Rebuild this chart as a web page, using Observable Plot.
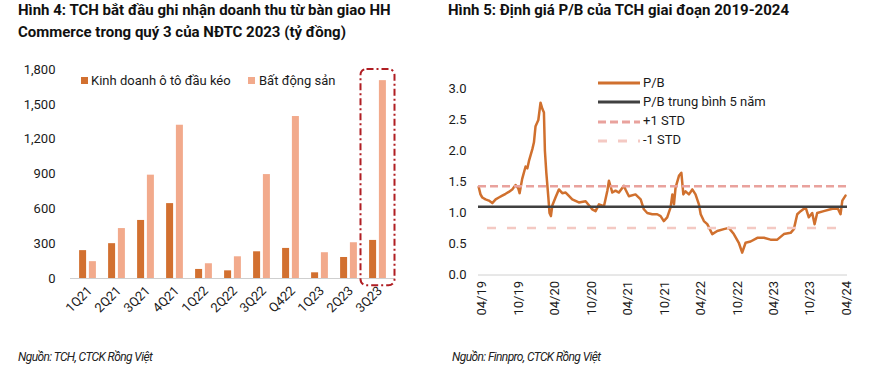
<!DOCTYPE html>
<html><head><meta charset="utf-8">
<script src="https://cdn.jsdelivr.net/npm/d3@7"></script>
<script src="https://cdn.jsdelivr.net/npm/@observablehq/plot@0.6"></script>
<style>
body{margin:0;background:#fff;font-family:Roboto,sans-serif;color:#1a1a1a}
#page{position:relative;width:870px;height:375px;overflow:hidden;background:#fff}
.abs{position:absolute;white-space:nowrap}
.title{font-weight:700;font-size:15px;line-height:21.7px;color:#111}
.leg{font-size:13px;line-height:16px;color:#1a1a1a}
.sw{display:inline-block;width:7px;height:7px;position:absolute}
.src{font-style:italic;font-size:12px;letter-spacing:-0.6px;color:#222}
svg{overflow:visible}
</style></head><body><div id="page">
<div class="abs title" style="left:18px;top:0px">Hình 4: TCH bắt đầu ghi nhận doanh thu từ bàn giao HH<br>Commerce trong quý 3 của NĐTC 2023 (tỷ đồng)</div>
<div class="abs title" style="left:448px;top:0px">Hình 5: Định giá P/B của TCH giai đoạn 2019-2024</div>
<div id="left" class="abs" style="left:0;top:60px"></div>
<div id="right" class="abs" style="left:435px;top:60px"></div>
<div id="legL"></div>
<div id="legR"></div>
<div class="abs src" style="left:18px;top:350px">Nguồn: TCH, CTCK Rồng Việt</div>
<div class="abs src" style="left:452px;top:350px">Nguồn: Finnpro, CTCK Rồng Việt</div>
</div>
<script>
// ---- Chart 1 data ----
const quarters = ["1Q21","2Q21","3Q21","4Q21","1Q22","2Q22","3Q22","Q422","1Q23","2Q23","3Q23"];
const truckSales = [240,300,500,645,78,66,230,259,49,181,328];
const realEstate = [145,430,890,1320,127,187,895,1395,222,308,1704];
const barTicks = [0,300,600,900,1200,1500,1800];
const seriesNames = ["Kinh doanh ô tô đầu kéo","Bất động sản"];
const highlightQuarter = "3Q23";
const highlightRange = [-63, 1800];

// ---- Chart 2 data ----
const pbDates = ["2019-03-14","2019-03-23","2019-04-01","2019-04-17","2019-05-04","2019-05-21","2019-06-07","2019-06-23","2019-07-10","2019-07-27","2019-08-12","2019-08-29","2019-09-15","2019-09-28","2019-10-05","2019-10-18","2019-11-04","2019-11-13","2019-11-21","2019-12-08","2019-12-16","2019-12-24","2020-01-07","2020-01-18","2020-01-27","2020-02-04","2020-02-09","2020-02-16","2020-02-26","2020-03-03","2020-03-10","2020-03-17","2020-04-02","2020-04-19","2020-05-06","2020-05-23","2020-06-07","2020-06-25","2020-07-28","2020-08-31","2020-10-03","2020-10-20","2020-11-06","2020-12-01","2020-12-18","2020-12-26","2021-01-12","2021-01-28","2021-02-14","2021-03-11","2021-03-19","2021-04-05","2021-05-08","2021-06-03","2021-06-19","2021-07-06","2021-07-31","2021-08-25","2021-09-11","2021-09-27","2021-10-14","2021-10-31","2021-11-09","2021-11-17","2021-11-25","2021-12-12","2021-12-24","2022-01-03","2022-01-14","2022-01-31","2022-02-17","2022-03-05","2022-03-22","2022-03-31","2022-04-16","2022-05-03","2022-05-28","2022-06-22","2022-07-25","2022-08-19","2022-09-13","2022-10-08","2022-10-25","2022-11-11","2022-12-06","2023-01-09","2023-02-11","2023-03-16","2023-04-19","2023-05-22","2023-06-25","2023-07-11","2023-07-28","2023-08-14","2023-09-08","2023-09-24","2023-10-11","2023-10-23","2023-11-05","2023-12-08","2024-01-11","2024-02-14","2024-03-01","2024-03-10","2024-03-26"];
const pbValues = [1.42,1.30,1.25,1.22,1.20,1.16,1.22,1.25,1.28,1.31,1.34,1.38,1.45,1.40,1.32,1.55,1.75,1.72,1.84,2.03,2.14,2.40,2.50,2.78,2.68,2.62,2.00,1.65,1.26,1.00,0.95,1.12,1.25,1.38,1.32,1.33,1.28,1.22,1.17,1.19,1.06,1.03,1.14,1.11,1.36,1.52,1.33,1.36,1.33,1.44,1.38,1.27,1.30,1.22,1.06,1.00,0.98,0.98,0.95,0.87,0.93,1.09,1.30,1.14,1.41,1.60,1.65,1.30,1.35,1.30,1.38,1.30,1.14,0.98,0.87,0.82,0.66,0.71,0.74,0.76,0.66,0.52,0.36,0.52,0.54,0.60,0.60,0.57,0.57,0.66,0.68,0.74,0.98,1.03,1.09,0.93,1.00,0.82,1.00,1.03,1.06,1.09,0.98,1.20,1.28];
const pbMean = 1.1, pbPlus = 1.43, pbMinus = 0.76;
const pbXTicks = ["2019-04-01","2019-10-01","2020-04-01","2020-10-01","2021-04-01","2021-10-01","2022-04-01","2022-10-01","2023-04-01","2023-10-01","2024-04-01"];
const pbYTicks = [0,0.5,1,1.5,2,2.5,3];
const pbLegend = ["P/B","P/B trung bình 5 năm","+1 STD","-1 STD"];

const C_DARK = "#D27030", C_LIGHT = "#F2AA8C";
const C_PB = "#D0702E", C_MEAN = "#404040", C_PLUS = "#E9A29D", C_MINUS = "#F4C9C3";

const fontStyle = {fontFamily:"Roboto, sans-serif", fontSize:"13px", color:"#1a1a1a", background:"transparent", overflow:"visible"};

const barA = quarters.map((q,i)=>({q, v: truckSales[i]}));
const barB = quarters.map((q,i)=>({q, v: realEstate[i]}));

const left = Plot.plot({
  width:420, height:260, marginLeft:70, marginRight:25, marginTop:9, marginBottom:42,
  style: fontStyle,
  x:{domain: quarters, paddingInner:0.76, paddingOuter:0.38, label:null, axis:null},
  y:{domain:[0,1800], ticks: barTicks, tickFormat: d3.format(","), tickSize:0, tickPadding:15, label:null},
  marks:[
    Plot.axisX({tickSize:0, tickRotate:-45, tickPadding:10, dx:2, label:null, fontSize:13}),
    Plot.barY(barA, {x:"q", y:"v", fill:C_DARK, dx:-4.9}),
    Plot.barY(barB, {x:"q", y:"v", fill:C_LIGHT, dx:4.9}),
    Plot.ruleY([0], {stroke:"#cfcfcf", strokeWidth:1}),
    Plot.barY([highlightQuarter], {x:d=>d, y1:highlightRange[0], y2:highlightRange[1], fill:"none", stroke:"#B01E23", strokeWidth:2, strokeDasharray:"7,3,2,3", rx:6, insetLeft:-13.5, insetRight:-13.5})
  ]
});
document.getElementById("left").appendChild(left);

const pbData = pbDates.map((d,i)=>({date:new Date(d), v:pbValues[i]}));
const right = Plot.plot({
  width:435, height:260, marginLeft:43, marginRight:23, marginTop:28.5, marginBottom:45.5,
  style: fontStyle,
  x:{type:"utc", domain:[new Date("2019-03-13"), new Date("2024-04-05")], ticks: pbXTicks.map(d=>new Date(d)), tickFormat: d3.utcFormat("%m/%y"), tickRotate:-90, tickSize:0, tickPadding:6, label:null},
  y:{domain:[0,3], ticks: pbYTicks, tickFormat: d3.format(".1f"), tickSize:0, tickPadding:12, label:null},
  marks:[
    Plot.ruleY([0], {stroke:"#d0d0d0", strokeWidth:1}),
    Plot.lineY(pbData, {x:"date", y:"v", stroke:C_PB, strokeWidth:2.5}),
    Plot.ruleY([pbMean], {stroke:C_MEAN, strokeWidth:2.5}),
    Plot.ruleY([pbPlus], {stroke:C_PLUS, strokeWidth:2.5, strokeDasharray:"8,4"}),
    Plot.ruleY([pbMinus], {stroke:C_MINUS, strokeWidth:2.5, strokeDasharray:"9,11", strokeDashoffset:11})
  ]
});
document.getElementById("right").appendChild(right);

// legends
const legL = document.getElementById("legL");
[[80.7,91,C_DARK,seriesNames[0]],[248.3,259,C_LIGHT,seriesNames[1]]].forEach(([sx,tx,c,t])=>{
  legL.insertAdjacentHTML("beforeend", `<div class="abs sw" style="left:${sx}px;top:77px;background:${c}"></div><div class="abs leg" style="left:${tx}px;top:72.5px">${t}</div>`);
});
const legR = document.getElementById("legR");
const legStyles = [[C_PB,""],[C_MEAN,""],[C_PLUS,"8,4"],[C_MINUS,"9,11"]];
const rowsY = [83.3,102.3,121.7,140.7];
legStyles.forEach(([c,da],i)=>{
  legR.insertAdjacentHTML("beforeend", `<svg class="abs" style="left:598px;top:${rowsY[i]-3}px" width="42" height="6"><line x1="0" x2="42" y1="3" y2="3" stroke="${c}" stroke-width="3" ${da?`stroke-dasharray="${da}"`:""}/></svg><div class="abs leg" style="left:643px;top:${rowsY[i]-8.5}px">${pbLegend[i]}</div>`);
});
</script>
</body></html>
